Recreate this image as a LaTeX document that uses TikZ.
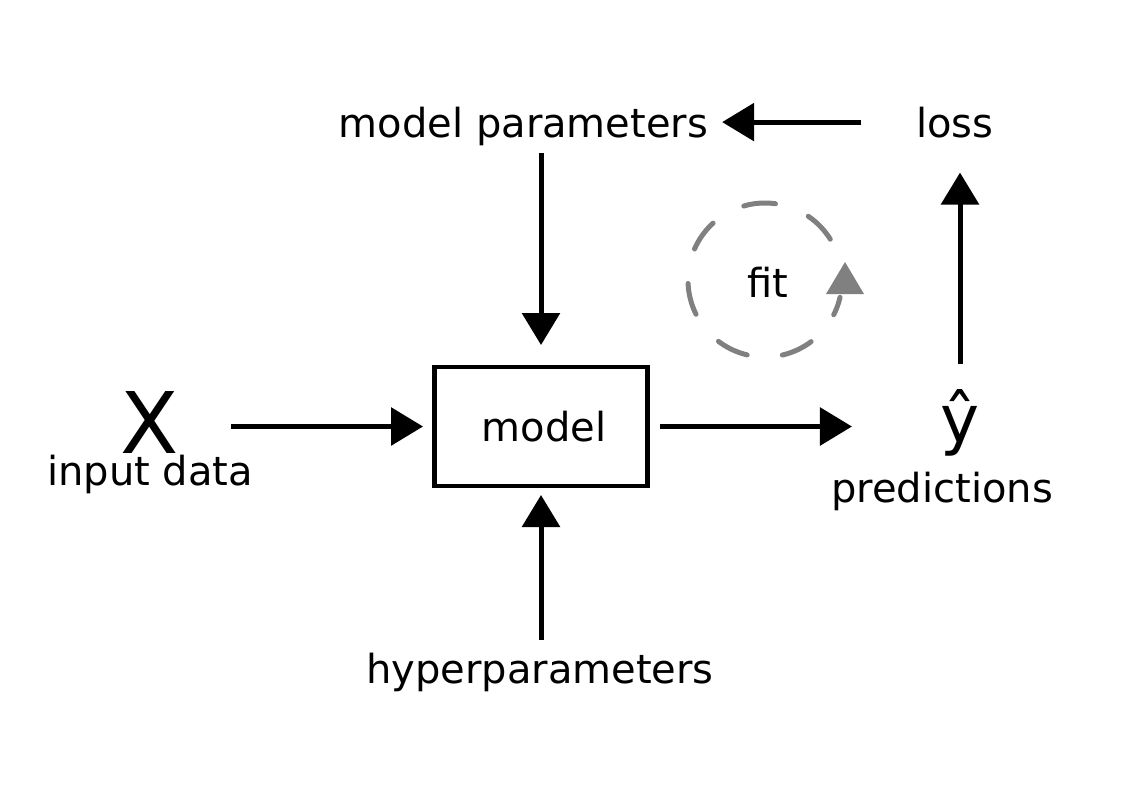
\documentclass[tikz,border=0pt]{standalone}
\usepackage{fontspec}
\setmainfont{DejaVu Sans}
\usetikzlibrary{arrows.meta}
\definecolor{fitgray}{RGB}{128,128,128}
\tikzset{
  txt/.style={inner sep=0pt, outer sep=0pt, anchor=base, font=\fontsize{30}{36}\selectfont},
  big/.style={inner sep=0pt, outer sep=0pt, anchor=base, font=\fontsize{#1}{#1}\selectfont},
  arr/.style={line width=3.75pt, -{Triangle[length=24pt, width=28pt]}},
  box/.style={draw, line width=3.5pt, inner sep=0pt, outer sep=0pt, minimum width=159.75pt, minimum height=89.25pt, font=\fontsize{30}{36}\selectfont},
  fitarc/.style={draw=fitgray, line width=3.75pt, line cap=round, dash pattern=on 24pt off 26.6pt},
}
\begin{document}
\begin{tikzpicture}[x=0.75pt, y=-0.75pt]
\useasboundingbox (0,0) rectangle (1123,794);
\node[box] (model) at (541,426.5) {\hspace*{4.5pt}model};
\node[txt] (mp) at (523.5,137) {model parameters};
\node[txt] (loss) at (955,137) {loss};
\node[big=63.75] (X) at (150,453) {X};
\node[txt] (input) at (150,485) {input data};
\node[big=49.5] (yhat) at (960,442) {ŷ};
\node[txt] (pred) at (942,502) {predictions};
\node[txt] (hp) at (540,683) {hyperparameters};
\node[txt] (fit) at (768,297) {fit};
% connectors
\draw[arr, shorten <=5.8pt, shorten >=16.5pt] (model.north |- mp.south) -- (model.north);
\draw[arr, shorten <=9.5pt, shorten >=6.75pt] (model.south |- hp.north) -- (model.south);
\draw[arr, shorten <=39pt, shorten >=8.6pt] (model.west -| X.east) -- (model.west);
\draw[arr, shorten <=9.4pt, shorten >=66.4pt] (model.east) -- (model.east -| yhat.west);
\draw[arr, shorten <=18.75pt, shorten >=26.25pt] (yhat.north) -- (yhat.north |- loss.south);
\draw[arr, shorten <=41.25pt, shorten >=10.5pt] (loss.west) -- (loss.west -| mp.east);
% fit loop
\draw[fitarc] (765,280) ++(-32:77) arc[start angle=-32, end angle=-347, radius=77];
\fill[fitgray] (826,294) -- (864,294) -- (845,262) -- cycle;
\end{tikzpicture}
\end{document}
